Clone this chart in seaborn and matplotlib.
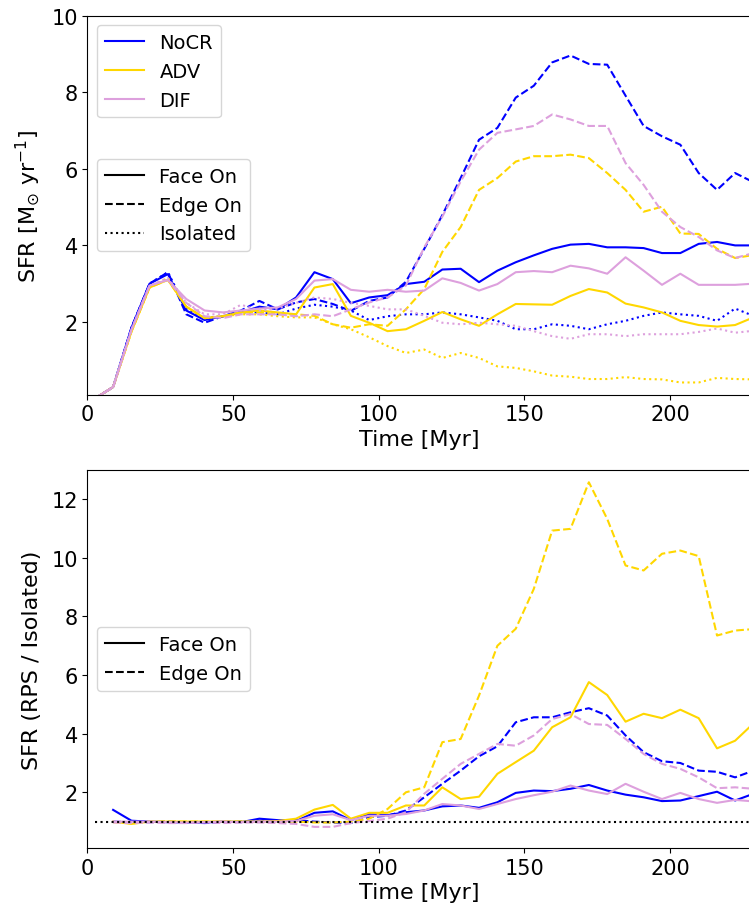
import matplotlib
matplotlib.use("Agg")
import matplotlib.pyplot as plt
from matplotlib.lines import Line2D
import pandas as pd
import seaborn as sns

# ---------------- data ----------------
times = [2.5, 8.8, 15.1, 21.3, 27.6, 33.9, 40.2, 46.5, 52.7, 59.0, 65.3, 71.6,
         77.9, 84.2, 90.4, 96.7, 103.0, 109.3, 115.6, 121.8, 128.1, 134.4,
         140.7, 147.0, 153.2, 159.5, 165.8, 172.1, 178.4, 184.7, 190.9, 197.2,
         203.5, 209.8, 216.1, 222.3, 228.6]

models = ["NoCR", "ADV", "DIF"]
views = ["Face On", "Edge On", "Isolated"]
model_colors = ["#0000FF", "#FFD700", "#DDA0DD"]

nocr_face = [0.0, 0.3, 1.85, 3.0, 3.25, 2.3, 2.05, 2.15, 2.25, 2.4, 2.33, 2.64,
             3.30, 3.12, 2.49, 2.64, 2.7, 2.99, 3.05, 3.37, 3.39, 3.04, 3.34,
             3.56, 3.74, 3.91, 4.02, 4.04, 3.95, 3.95, 3.93, 3.80, 3.80, 4.04,
             4.09, 4.0, 4.0]
nocr_edge = [0.0, 0.3, 1.85, 3.0, 3.3, 2.2, 1.98, 2.15, 2.3, 2.55, 2.33, 2.51,
             2.6, 2.47, 2.29, 2.55, 2.64, 3.05, 3.91, 4.79, 5.76, 6.76, 7.07,
             7.86, 8.17, 8.78, 8.96, 8.74, 8.72, 7.91, 7.12, 6.85, 6.63, 5.89,
             5.45, 5.89, 5.65]
nocr_iso = [0.0, 0.3, 1.85, 3.0, 3.3, 2.35, 2.1, 2.15, 2.25, 2.25, 2.2, 2.35,
            2.45, 2.4, 2.3, 2.05, 2.15, 2.2, 2.2, 2.25, 2.2, 2.12, 2.03, 1.81,
            1.81, 1.94, 1.9, 1.81, 1.94, 2.03, 2.16, 2.25, 2.2, 2.16, 2.03,
            2.35, 2.16]

adv_face = [0.0, 0.3, 1.75, 2.9, 3.1, 2.4, 2.1, 2.15, 2.25, 2.3, 2.25, 2.2,
            2.9, 2.99, 2.16, 1.98, 1.76, 1.81, 2.03, 2.26, 2.07, 1.9, 2.2,
            2.47, 2.46, 2.45, 2.68, 2.86, 2.77, 2.48, 2.38, 2.25, 2.03, 1.92,
            1.88, 1.92, 2.12]
adv_edge = [0.0, 0.3, 1.75, 2.9, 3.1, 2.4, 2.1, 2.15, 2.25, 2.25, 2.2, 2.2,
            2.16, 1.94, 1.85, 1.94, 1.9, 2.33, 2.86, 3.83, 4.48, 5.45, 5.76,
            6.19, 6.33, 6.33, 6.37, 6.28, 5.89, 5.45, 4.88, 5.01, 4.31, 4.3,
            3.91, 3.67, 3.75]
adv_iso = [0.0, 0.3, 1.75, 2.9, 3.15, 2.4, 2.1, 2.15, 2.2, 2.2, 2.15, 2.12,
           2.12, 1.94, 1.81, 1.6, 1.37, 1.19, 1.28, 1.06, 1.19, 1.06, 0.84,
           0.8, 0.71, 0.6, 0.57, 0.51, 0.51, 0.56, 0.51, 0.5, 0.42, 0.42,
           0.54, 0.51, 0.5]

dif_face = [0.0, 0.3, 1.8, 2.95, 3.1, 2.6, 2.3, 2.25, 2.3, 2.35, 2.38, 2.6,
            3.08, 3.12, 2.84, 2.79, 2.84, 2.79, 2.82, 3.14, 3.02, 2.82, 2.99,
            3.3, 3.33, 3.3, 3.47, 3.4, 3.26, 3.69, 3.34, 2.97, 3.26, 2.97,
            2.97, 2.97, 3.0]
dif_edge = [0.0, 0.3, 1.8, 2.95, 3.1, 2.5, 2.15, 2.1, 2.2, 2.2, 2.2, 2.15,
            2.2, 2.15, 2.33, 2.51, 2.64, 2.95, 3.95, 4.75, 5.67, 6.5, 6.94,
            7.03, 7.12, 7.42, 7.29, 7.12, 7.12, 6.15, 5.58, 4.88, 4.48, 4.22,
            3.87, 3.67, 3.8]
dif_iso = [0.0, 0.3, 1.8, 2.95, 3.15, 2.5, 2.2, 2.2, 2.45, 2.3, 2.35, 2.5,
           2.64, 2.6, 2.5, 2.42, 2.33, 2.33, 2.16, 1.98, 1.94, 1.98, 1.94,
           1.9, 1.76, 1.63, 1.56, 1.68, 1.68, 1.63, 1.68, 1.68, 1.68, 1.74,
           1.83, 1.72, 1.77]

# ratios (RPS / Isolated), from the second snapshot on
ratio_times = times[1:]
ratio_nocr_face = [1.4, 1.03, 1.0, 0.98, 0.97, 0.97, 1.0, 0.98, 1.1, 1.05, 1.02,
                   1.3, 1.35, 1.05, 1.25, 1.22, 1.32, 1.38, 1.52, 1.55, 1.47,
                   1.66, 1.98, 2.06, 2.04, 2.12, 2.25, 2.06, 1.92, 1.83, 1.7,
                   1.72, 1.87, 2.02, 1.72, 1.95]
ratio_nocr_edge = [1.0, 0.98, 0.98, 1.0, 0.97, 0.95, 0.98, 1.0, 1.03, 1.02, 1.05,
                   1.0, 0.97, 0.95, 1.15, 1.2, 1.38, 1.83, 2.29, 2.74, 3.23,
                   3.57, 4.39, 4.56, 4.56, 4.73, 4.87, 4.62, 3.94, 3.37, 3.06,
                   3.0, 2.74, 2.7, 2.51, 2.74]
ratio_adv_face = [1.0, 0.92, 1.0, 1.0, 1.0, 1.0, 1.0, 1.0, 1.0, 1.02, 1.1,
                  1.41, 1.57, 1.1, 1.3, 1.3, 1.55, 1.55, 2.17, 1.77, 1.85,
                  2.63, 3.03, 3.42, 4.22, 4.56, 5.76, 5.32, 4.41, 4.68, 4.53,
                  4.82, 4.53, 3.5, 3.76, 4.35]
ratio_adv_edge = [0.98, 0.95, 1.0, 1.0, 1.0, 1.0, 1.0, 1.0, 1.0, 0.98, 1.0,
                  0.97, 0.97, 1.0, 1.1, 1.43, 2.0, 2.17, 3.71, 3.82, 5.3, 7.0,
                  7.58, 8.94, 10.93, 10.99, 12.58, 11.33, 9.74, 9.57, 10.14,
                  10.25, 10.06, 7.35, 7.52, 7.57]
ratio_dif_face = [1.0, 1.0, 1.0, 0.98, 0.97, 0.98, 1.0, 0.98, 1.0, 1.0, 1.02,
                  1.2, 1.25, 1.05, 1.2, 1.2, 1.26, 1.38, 1.6, 1.55, 1.43, 1.6,
                  1.77, 1.9, 2.02, 2.23, 2.06, 1.94, 2.29, 2.02, 1.77, 1.98,
                  1.77, 1.64, 1.74, 1.69]
ratio_dif_edge = [0.97, 0.95, 0.97, 0.95, 0.95, 0.97, 0.95, 0.97, 0.97, 0.95,
                  0.92, 0.82, 0.82, 0.95, 1.02, 1.1, 1.32, 1.95, 2.46, 2.97,
                  3.31, 3.65, 3.59, 3.94, 4.5, 4.67, 4.33, 4.3, 3.82, 3.31,
                  2.97, 2.8, 2.51, 2.14, 2.17, 2.12]
iso_ratio = [1.0] * len(times)

x_ticks = [0, 50, 100, 150, 200]
top_yticks = [2, 4, 6, 8, 10]
bottom_yticks = [2, 4, 6, 8, 10, 12]

# ---------------- build tables ----------------
top_series = {
    ("NoCR", "Face On"): nocr_face, ("NoCR", "Edge On"): nocr_edge, ("NoCR", "Isolated"): nocr_iso,
    ("ADV", "Face On"): adv_face, ("ADV", "Edge On"): adv_edge, ("ADV", "Isolated"): adv_iso,
    ("DIF", "Face On"): dif_face, ("DIF", "Edge On"): dif_edge, ("DIF", "Isolated"): dif_iso,
}
bottom_series = {
    ("NoCR", "Face On"): ratio_nocr_face, ("NoCR", "Edge On"): ratio_nocr_edge,
    ("ADV", "Face On"): ratio_adv_face, ("ADV", "Edge On"): ratio_adv_edge,
    ("DIF", "Face On"): ratio_dif_face, ("DIF", "Edge On"): ratio_dif_edge,
}

def to_frame(series, tvals):
    rows = []
    for (m, v), vals in series.items():
        for t, y in zip(tvals, vals):
            rows.append({"time": t, "value": y, "model": m, "view": v})
    return pd.DataFrame(rows)

df_top = to_frame(top_series, times)
df_bot = to_frame(bottom_series, ratio_times)

palette = dict(zip(models, model_colors))
dash_map = {"Face On": "", "Edge On": (3.7, 1.6), "Isolated": (1, 1.65)}

# ---------------- figure ----------------
plt.rcParams["font.family"] = ["DejaVu Sans"]
fig = plt.figure(figsize=(7.49, 9.12), dpi=100)
ax1 = fig.add_axes([0.1168, 0.5661, 0.8872, 0.4156])
ax2 = fig.add_axes([0.1168, 0.0691, 0.8872, 0.4145])

sns.lineplot(data=df_top, x="time", y="value", hue="model", style="view",
             hue_order=models, style_order=views, palette=palette,
             dashes=dash_map, linewidth=1.5, legend=False, errorbar=None,
             estimator=None, ax=ax1)
sns.lineplot(data=df_bot, x="time", y="value", hue="model", style="view",
             hue_order=models, style_order=views[:2], palette=palette,
             dashes=dash_map, linewidth=1.5, legend=False, errorbar=None,
             estimator=None, ax=ax2)
sns.lineplot(x=times, y=iso_ratio, color="black", linewidth=1.5,
             linestyle=":", ax=ax2)

fs_tick = 15
fs_label = 16
fs_leg = 14

for ax in (ax1, ax2):
    ax.set_xlim(0, 228.1)
    ax.set_xticks(x_ticks)
    ax.tick_params(labelsize=fs_tick)
    ax.set_xlabel("Time [Myr]", fontsize=fs_label, labelpad=3)

ax1.set_ylim(0.1, 10)
ax1.set_yticks(top_yticks)
ax1.set_ylabel(r"SFR [M$_{\odot}$ yr$^{-1}$]", fontsize=fs_label, labelpad=7)
ax2.set_ylim(0.1, 13)
ax2.set_yticks(bottom_yticks)
ax2.set_ylabel("SFR (RPS / Isolated)", fontsize=fs_label, labelpad=7)

color_handles = [Line2D([], [], color=c, lw=1.5) for c in model_colors]
style_handles = [Line2D([], [], color="black", lw=1.5, linestyle=ls)
                 for ls in ["-", "--", ":"]]

leg1 = ax1.legend(color_handles, models, loc="upper left", fontsize=fs_leg)
ax1.add_artist(leg1)
ax1.legend(style_handles, views, loc="center left", fontsize=fs_leg)
ax2.legend(style_handles[:2], views[:2], loc="center left", fontsize=fs_leg)

fig.savefig("out.png", dpi=100)
